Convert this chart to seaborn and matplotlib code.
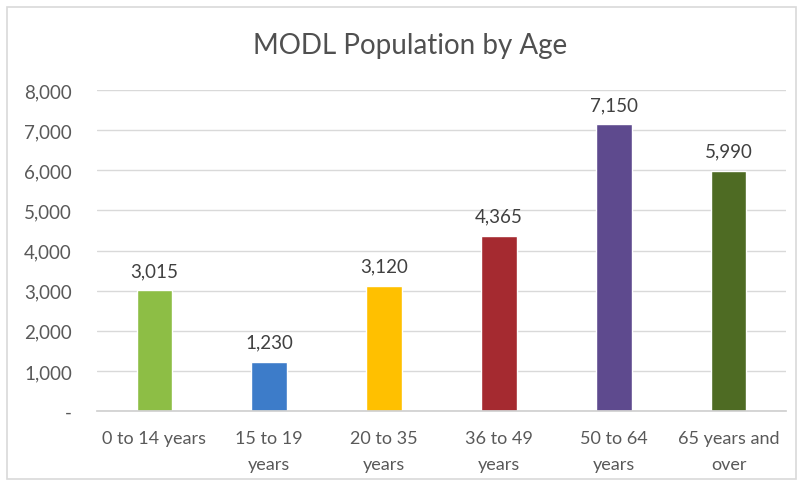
import matplotlib
matplotlib.use("Agg")
import matplotlib.pyplot as plt
from matplotlib.patches import Rectangle
import seaborn as sns
import pandas as pd

# Population counts by age band
age_groups = ["0 to 14 years", "15 to 19\nyears", "20 to 35\nyears",
              "36 to 49\nyears", "50 to 64\nyears", "65 years and\nover"]
population = [3015, 1230, 3120, 4365, 7150, 5990]
bar_colors = ["#8DBE45", "#3D7CC9", "#FFC000", "#A52A30", "#5E4A8E", "#4E6B23"]
y_ticks = [0, 1000, 2000, 3000, 4000, 5000, 6000, 7000, 8000]
y_tick_labels = ["-", "1,000", "2,000", "3,000", "4,000", "5,000", "6,000", "7,000", "8,000"]

sns.set_theme(style="white")
plt.rcParams["font.family"] = ["Lato", "DejaVu Sans"]

df = pd.DataFrame({"age": age_groups, "pop": population})

W, H = 801, 485
fig = plt.figure(figsize=(W / 100, H / 100), dpi=100)
ax = fig.add_axes([97 / W, (H - 412) / H, (786 - 97) / W, (412 - 91) / H])

sns.barplot(data=df, x="age", y="pop", hue="age", palette=bar_colors,
            width=0.31, legend=False, ax=ax, saturation=1)

ax.set_ylim(0, 8000)
ax.set_xlim(-0.5, len(age_groups) - 0.5)
ax.set_yticks(y_ticks)
ax.set_yticklabels(y_tick_labels)
ax.yaxis.grid(True, color="#D9D9D9", linewidth=1)
ax.set_axisbelow(True)
for side in ["top", "right", "left"]:
    ax.spines[side].set_visible(False)
ax.spines["bottom"].set_color("#D0D0D0")
ax.set_xlabel("")
ax.set_ylabel("")
ax.tick_params(axis="both", length=0)
ax.tick_params(axis="y", pad=18, labelsize=13.5, labelcolor="#595959")
ax.tick_params(axis="x", pad=14, labelsize=13, labelcolor="#595959")
for lbl in ax.get_xticklabels():
    lbl.set_linespacing(1.75)

for i, v in enumerate(population):
    ax.annotate(f"{v:,}", (i, v), xytext=(0, 8), textcoords="offset points",
                ha="center", va="bottom", fontsize=13.5, color="#404040")

fig.text(410 / W, 1 - 46 / H, "MODL Population by Age", ha="center", va="center",
         fontsize=20, color="#505050")

fig.patches.append(Rectangle((7 / W, 5 / H), (W - 12) / W, (H - 13) / H,
                             transform=fig.transFigure, fill=False,
                             edgecolor="#D9D9D9", linewidth=1.2))

fig.savefig("out.png", dpi=100, facecolor="white")
